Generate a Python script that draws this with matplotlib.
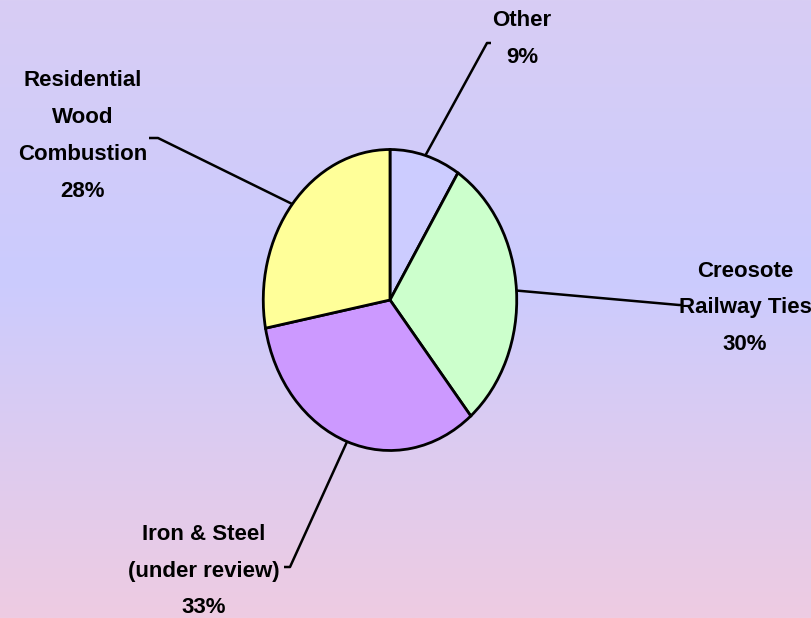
"""Pie chart: emission sources share, with leader-line labels on a gradient background."""

import matplotlib
matplotlib.use("Agg")
import matplotlib.pyplot as plt
import numpy as np
from matplotlib.colors import LinearSegmentedColormap

# Data
categories = ["Other", "Creosote\nRailway Ties", "Iron & Steel\n(under review)",
              "Residential\nWood\nCombustion"]
shares = [9, 30, 33, 28]
slice_colors = ["#ccccff", "#ccffcc", "#cc99ff", "#ffff99"]

# label layout (figure pixels, y measured from top): elbow of leader, line end, text centre
elbows = [(487, 43), (679, 305), (290, 567), (158, 138)]
line_ends = [(491, 43), (682, 305), (284, 567), (149, 138)]
text_centres = [(522, 39), (745, 308), (204, 571), (83, 136)]

W, H = 812, 618
fig = plt.figure(figsize=(W / 100, H / 100), dpi=100)

# Background gradient
bg = fig.add_axes([0, 0, 1, 1])
grad = LinearSegmentedColormap.from_list(
    "bg", [(0.0, "#d8cdf4"), (0.45, "#cbcbfe"), (1.0, "#eecce2")]
)
bg.imshow(np.linspace(0, 1, 256).reshape(-1, 1), cmap=grad, aspect="auto",
          extent=[0, W, H, 0], zorder=0)
bg.set_xlim(0, W)
bg.set_ylim(H, 0)
bg.axis("off")

# Pie axes: bounding box of the ellipse in pixels
left, top, right, bottom = 262, 148, 518, 452
pie_ax = fig.add_axes([left / W, 1 - bottom / H, (right - left) / W, (bottom - top) / H])
wedges, _ = pie_ax.pie(
    shares,
    colors=slice_colors,
    startangle=90,
    counterclock=False,
    radius=1.0,
    wedgeprops=dict(edgecolor="black", linewidth=2.0),
)
pie_ax.set_aspect("auto")
pie_ax.set_xlim(-1.01, 1.01)
pie_ax.set_ylim(-1.01, 1.01)
pie_ax.axis("off")

# Leader lines + labels
to_bg = pie_ax.transData + bg.transData.inverted()
total = sum(shares)
cum = 0
for i, (name, val) in enumerate(zip(categories, shares)):
    mid = 90 - 360 * (cum + val / 2) / total
    cum += val
    ex, ey = to_bg.transform((np.cos(np.radians(mid)), np.sin(np.radians(mid))))
    (kx, ky), (lx, ly) = elbows[i], line_ends[i]
    bg.plot([ex, kx, lx], [ey, ky, ly], color="black", lw=1.8,
            solid_capstyle="butt", zorder=3)
    tx, ty = text_centres[i]
    bg.text(tx, ty, f"{name}\n{val}%", ha="center", va="center",
            fontsize=16, fontweight="bold", family="Liberation Sans",
            linespacing=1.98, zorder=4)

fig.savefig("out.png", dpi=100)
